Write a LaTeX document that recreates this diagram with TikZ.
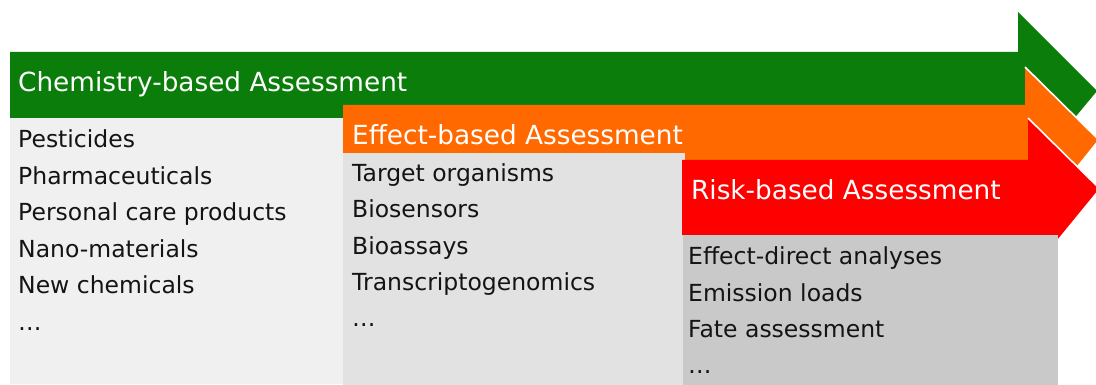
\documentclass[tikz,border=0pt]{standalone}
\usepackage{fontspec}
\setmainfont{DejaVu Sans}
\definecolor{cgreen}{RGB}{10,125,10}
\definecolor{corange}{RGB}{255,105,0}
\definecolor{cred}{RGB}{255,0,0}
\definecolor{grayA}{RGB}{240,240,240}
\definecolor{grayB}{RGB}{226,226,226}
\definecolor{grayC}{RGB}{201,201,201}
\definecolor{txt}{RGB}{20,20,20}
\begin{document}
\begin{tikzpicture}[x=1pt,y=-1pt,
  titletext/.style={anchor=base west, inner sep=0pt, text=white, font=\fontsize{26.3}{30}\selectfont},
  itemtext/.style={anchor=base west, inner sep=0pt, text=txt, font=\fontsize{23.5}{28}\selectfont},
  headedge/.style={draw=white, line width=1.6pt, line join=miter},
  panel/.style={draw=none}]
\useasboundingbox (0,0) rectangle (1096,385);
\clip (0,0) rectangle (1096,385);
% green arrow and its panel
\fill[cgreen] (10,52) -- (1018,52) -- (1018,12) -- (1097,91) -- (1018,186) -- (1018,118) -- (10,118) -- cycle;
\fill[panel, grayA] (10,118) rectangle (343,384);
% orange arrow and its panel
\fill[corange] (343,105) -- (1025,105) -- (1025,67) -- (1099,140) -- (1025,232) -- (1025,160) -- (343,160) -- cycle;
\draw[headedge] (1025,67) -- (1099,140) -- (1025,232);
\fill[panel, grayB] (343,153) rectangle (685,385);
% red arrow and its panel
\fill[cred] (682,160) -- (1028,160) -- (1028,118) -- (1100,189) -- (1028,277) -- (1028,235) -- (682,235) -- cycle;
\draw[headedge] (1028,118) -- (1100,189) -- (1028,277);
\fill[panel, grayC] (683,235) rectangle (1058,385);
% titles
\node[titletext] (t1) at (18,92) {Chemistry-based Assessment};
\node[titletext] (t2) at (352,145) {Effect-based Assessment};
\node[titletext] (t3) at (691,200) {Risk-based Assessment};
% lists
\foreach \t [count=\i] in {Pesticides, Pharmaceuticals, Personal care products, Nano-materials, New chemicals, …}
  \node[itemtext] (a\i) at (18,{148+(\i-1)*36.4}) {\t};
\foreach \t [count=\i] in {Target organisms, Biosensors, Bioassays, Transcriptogenomics, …}
  \node[itemtext] (b\i) at (352,{181.5+(\i-1)*36.3}) {\t};
\foreach \t [count=\i] in {Effect-direct analyses, Emission loads, Fate assessment, …}
  \node[itemtext] (c\i) at (688,{265+(\i-1)*36}) {\t};
\end{tikzpicture}
\end{document}
